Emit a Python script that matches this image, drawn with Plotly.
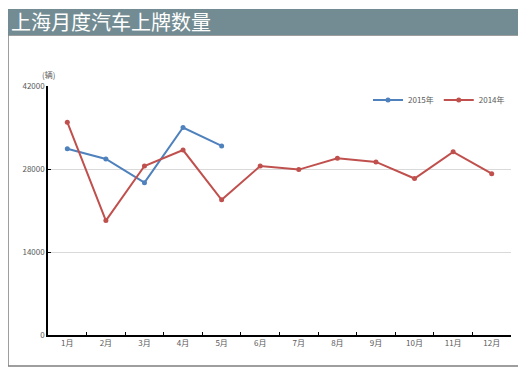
import plotly.graph_objects as go

months = ["1月", "2月", "3月", "4月", "5月", "6月", "7月", "8月", "9月", "10月", "11月", "12月"]
sales_2015 = [31400, 29700, 25700, 35000, 31900]
sales_2014 = [35900, 19300, 28500, 31200, 22800, 28500, 27900, 29800, 29200, 26400, 30900, 27200]
y_ticks = [0, 14000, 28000, 42000]

W, H = 526, 378
OFF = 8  # page offset of the figure inside the browser window
L, R, T, B = 48 - OFF, 23, 86 - OFF, 51
pw, ph = W - L - R, H - T - B


def px(x):
    return (x - OFF - L) / pw


def py(y):
    return (H - B - (y - OFF)) / ph


fig = go.Figure()
fig.add_trace(go.Scatter(x=months[:len(sales_2015)], y=sales_2015, name="2015年",
                         mode="lines+markers", line=dict(color="#4F81BD", width=2),
                         marker=dict(size=5, color="#4F81BD")))
fig.add_trace(go.Scatter(x=months, y=sales_2014, name="2014年",
                         mode="lines+markers", line=dict(color="#C0504D", width=2),
                         marker=dict(size=5, color="#C0504D")))

font = "Noto Sans CJK SC, Noto Sans, sans-serif"

fig.update_layout(
    width=W, height=H,
    margin=dict(l=L, r=R, t=T, b=B),
    paper_bgcolor="white", plot_bgcolor="white",
    font=dict(family=font, size=8, color="#595959"),
    showlegend=True,
    legend=dict(orientation="h", x=px(510), xanchor="right", y=py(100), yanchor="middle",
                font=dict(size=8, color="#595959"), itemwidth=30,
                bgcolor="rgba(0,0,0,0)"),
    xaxis=dict(type="category", categoryorder="array", categoryarray=months,
               range=[-0.5, 11.5], showline=True, linecolor="black", linewidth=1.5,
               ticks="inside", tickson="boundaries", ticklen=3, tickcolor="black",
               showgrid=False, tickfont=dict(size=8, color="#595959"), fixedrange=True),
    yaxis=dict(range=[0, 42000], tickvals=y_ticks, ticktext=[str(v) for v in y_ticks],
               showline=True, linecolor="black", linewidth=1.5,
               ticks="inside", ticklen=3, tickcolor="black",
               showgrid=True, gridcolor="#D9D9D9", gridwidth=1, zeroline=False,
               tickfont=dict(size=8, color="#595959"), fixedrange=True),
    shapes=[
        dict(type="rect", xref="paper", yref="paper", x0=px(8), x1=px(520), y0=py(366), y1=py(35),
             line=dict(color="#7F7F7F", width=1.5), fillcolor="rgba(0,0,0,0)", layer="below"),
        dict(type="rect", xref="paper", yref="paper", x0=px(8), x1=px(520), y0=py(35), y1=py(9),
             line=dict(width=0), fillcolor="#738C93", layer="below"),
    ],
    annotations=[
        dict(text="上海月度汽车上牌数量", xref="paper", yref="paper", x=px(9), y=py(22),
             xanchor="left", yanchor="middle", showarrow=False,
             font=dict(family=font, size=20, color="white")),
        dict(text="(辆)", xref="paper", yref="paper", x=px(48), y=py(75),
             xanchor="center", yanchor="middle", showarrow=False,
             font=dict(family=font, size=8, color="#595959")),
    ],
)

fig.write_html("out.html")
